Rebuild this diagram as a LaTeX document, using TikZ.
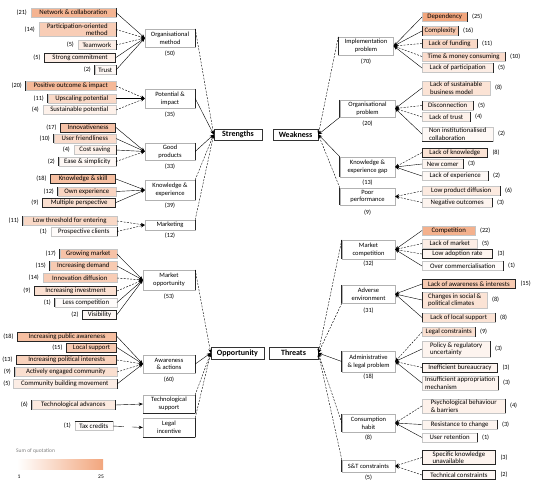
\documentclass[tikz,border=0pt]{standalone}
\usepackage{fontspec}
\setmainfont{Carlito}
\usetikzlibrary{arrows.meta}
\definecolor{qmax}{RGB}{242,166,125}
\tikzset{
  leaf/.style={draw=gray!45, line width=0.4pt, inner xsep=2pt, inner ysep=1pt,
    minimum height=9pt, font=\fontsize{6.8}{7.6}\selectfont},
  cnt/.style={inner sep=0.5pt, font=\fontsize{6.3}{7}\selectfont},
  catbox/.style={draw=gray!60, line width=0.4pt, align=center, inner sep=1pt,
    font=\fontsize{6.5}{7.6}\selectfont},
  mainbox/.style={draw=black!80, line width=0.6pt, inner sep=1pt,
    font=\fontsize{8}{9}\selectfont\bfseries},
  dk/.style={draw=black!85, line width=0.8pt},
  DL/.style={append after command={(\tikzlastnode.north west) edge[dk] (\tikzlastnode.south west)}},
  DR/.style={append after command={(\tikzlastnode.north east) edge[dk] (\tikzlastnode.south east)}},
  DT/.style={append after command={(\tikzlastnode.north west) edge[dk] (\tikzlastnode.north east)}},
  DB/.style={append after command={(\tikzlastnode.south west) edge[dk] (\tikzlastnode.south east)}},
  DF/.style={draw=black!85, line width=0.8pt},
  arr/.style={-{Stealth[length=4pt,width=3.2pt]}, line width=0.4pt},
  sl/.style={},
  ds/.style={dash pattern=on 2pt off 1.3pt},
}
% leaf on the left: name, right x, y, width, text, count, extra style
\newcommand\LL[7]{%
  \pgfmathtruncatemacro\qpct{#6*4}%
  \node[leaf, anchor=east, minimum width=#4, fill=qmax!\qpct!white, #7] (#1) at (#2,#3) {#5};
  \node[cnt, anchor=east] (#1c) at ([xshift=-3pt]#1.west) {(#6)};}
% leaf on the right: name, left x, y, width, text, count, extra style
\newcommand\RL[7]{%
  \pgfmathtruncatemacro\qpct{#6*4}%
  \node[leaf, anchor=west, minimum width=#4, fill=qmax!\qpct!white, #7] (#1) at (#2,#3) {#5};
  \node[cnt, anchor=west] (#1c) at ([xshift=4pt]#1.east) {(#6)};}
% category box: name, x, y, width, height, text, extra style
\newcommand\CB[7]{%
  \node[catbox, minimum width=#4, minimum height=#5, #7] (#1) at (#2,#3) {#6};}
\newcommand\CC[4]{\node[cnt] (#1) at (#2,#3) {#4};}

\begin{document}
\begin{tikzpicture}[x=1pt,y=-1pt]
\useasboundingbox (0,0) rectangle (534,483);

% ---------- Strengths ----------
\LL{nc}{116}{12.5}{85}{Network \& collaboration}{21}{DR}
\LL{po}{116}{29.5}{77}{Participation-oriented\\method}{14}{align=right,DR}
\LL{tw}{116}{45}{38}{Teamwork}{5}{DR}
\LL{sc}{116}{57.5}{71}{Strong commitment}{5}{DF}
\LL{tr}{116}{70}{21}{Trust}{2}{DL,DR}

\LL{poi}{116}{86}{90}{Positive outcome \& impact}{20}{DL}
\LL{ups}{116}{98.5}{68}{Upscaling potential}{11}{DL}
\LL{sus}{116}{110}{73}{Sustainable potential}{4}{}

\LL{inn}{116}{127.5}{55}{Innovativeness}{17}{DF}
\LL{uf}{116}{138.5}{62}{User friendliness}{10}{DL}
\LL{cs}{116}{150}{42}{Cost saving}{4}{DR}
\LL{es}{116}{161.5}{57}{Ease \& simplicity}{2}{DL,DR}

\LL{ks}{116}{179}{65}{Knowledge \& skill}{18}{DF}
\LL{oe}{116}{191.5}{58}{Own experience}{12}{DL}
\LL{mp}{116}{202.5}{73}{Multiple perspective}{9}{DF}

\LL{lt}{117}{221}{94}{Low threshold for entering}{11}{DL}
\LL{pc}{117}{231.5}{66}{Prospective clients}{1}{DR}

\CB{om}{170}{38}{50}{18}{Organisational\\method}{DR}
\CB{pi}{170}{98.5}{50}{19}{Potential \&\\impact}{DR}
\CB{gp}{170}{151.5}{50}{17}{Good\\products}{DR}
\CB{ke}{170}{190}{50}{20}{Knowledge \&\\experience}{DR}
\CB{mk}{170}{225}{50}{10}{Marketing}{DR}
\CC{omc}{170}{54}{(50)}
\CC{pic}{170}{115}{(35)}
\CC{gpc}{170}{167}{(33)}
\CC{kec}{170}{206}{(39)}
\CC{mkc}{170}{236}{(12)}

\node[mainbox, minimum width=48, minimum height=11] (S) at (238,134.5) {Strengths};

% ---------- Opportunity ----------
\LL{gm}{117}{254}{57}{Growing market}{17}{DL}
\LL{idm}{117}{266}{67}{Increasing demand}{15}{DL}
\LL{ind}{117}{278}{74}{Innovation diffusion}{14}{}
\LL{ii}{117}{291}{82}{Increasing investment}{9}{DF}
\LL{lc}{117}{302.5}{62}{Less competition}{1}{DL}
\LL{vis}{117}{314.5}{34}{Visibility}{2}{DF}

\LL{ipa}{117}{336.5}{99}{Increasing public awareness}{18}{DF}
\LL{lsu}{117}{347.5}{50}{Local support}{15}{DF}
\LL{ipi}{117}{360}{100}{Increasing political interests}{13}{DF}
\LL{aec}{117}{372}{102}{Actively engaged community}{9}{DL}
\pgfmathtruncatemacro\qpct{5*4}%
\node[leaf, anchor=east, minimum width=104, fill=qmax!\qpct!white, DR] (cbm) at (117,384) {Community building movement};
\node[cnt, anchor=east] (cbmc) at ([xshift=-1.5pt]cbm.west) {(5)};

\LL{ta}{115}{405}{83}{Technological advances}{6}{DL,DR}
\LL{tc}{113}{426}{38}{Tax credits}{1}{DT}

\CB{mo}{169}{280}{52}{20}{Market\\opportunity}{DR}
\CB{aa}{169}{364}{52}{18}{Awareness\\\& actions}{DR}
\CB{tsu}{169}{404}{52}{18}{Technological\\support}{DR,DB}
\CB{lin}{169}{427.5}{52}{19}{Legal\\incentive}{DR,DB}
\CC{moc}{169}{297}{(53)}
\CC{aac}{169}{380}{(60)}

\node[mainbox, minimum width=53, minimum height=12] (O) at (237.5,353) {Opportunity};

% ---------- Weakness ----------
\RL{dep}{422}{17}{45}{Dependency}{25}{DR}
\RL{cx}{422}{31}{36}{Complexity}{16}{DL,DR}
\RL{lf}{422}{43.5}{55}{Lack of funding}{11}{DL,DR}
\RL{tm}{422}{56.5}{83}{Time \& money consuming}{10}{DR}
\RL{lp}{422}{68}{71}{Lack of participation}{5}{DR}

\RL{lsb}{422}{88}{68}{Lack of sustainable\\business model}{8}{align=left}
\RL{dis}{422}{105.5}{51}{Disconnection}{5}{DL,DR}
\RL{lot}{422}{117}{48}{Lack of trust}{4}{DR}
\RL{nic}{422}{134}{71}{Non institutionalised\\collaboration}{2}{align=left,DB}

\RL{lk}{422}{152.5}{65}{Lack of knowledge}{8}{DF}
\RL{ncm}{422}{164}{41}{New comer}{3}{DR}
\RL{le}{422}{176}{66}{Lack of experience}{2}{DR}

\RL{lpd}{422}{191}{78}{Low product diffusion}{6}{DR}
\RL{neg}{422}{202.5}{70}{Negative outcomes}{3}{DR}

\CB{ip}{366}{46}{55}{18}{Implementation\\problem}{DL}
\CB{op}{367.5}{108.5}{55}{17}{Organisational\\problem}{DL}
\CB{kg}{367.5}{167}{55}{20}{Knowledge \&\\experience gap}{DL}
\CB{pp}{367.5}{196.5}{55}{17}{Poor\\performance}{DL}
\CC{ipc}{366}{62}{(70)}
\CC{opc}{367.5}{124}{(20)}
\CC{kgc}{367.5}{182.5}{(13)}
\CC{ppc}{367.5}{213}{(9)}

\node[mainbox, minimum width=45, minimum height=11] (W) at (295.5,134.5) {Weakness};

% ---------- Threats ----------
\RL{comp}{422}{230.5}{53}{Competition}{22}{}
\RL{lm}{422}{243.5}{55}{Lack of market}{5}{}
\RL{lar}{422}{254}{70}{Low adoption rate}{3}{DF}
\RL{oc}{422}{266}{81}{Over commercialisation}{1}{DR}

\RL{law}{422}{284}{93}{Lack of awareness \& interests}{15}{DF}
\RL{csp}{422}{300}{65}{Changes in social \&\\political climates}{8}{align=left,DL}
\RL{lls}{422}{317.5}{73}{Lack of local support}{8}{DL,DR}

\RL{lco}{422}{332}{53}{Legal constraints}{9}{DR}
\RL{pru}{422}{349}{68}{Policy \& regulatory\\uncertainty}{3}{align=left,DR}
\RL{ib}{422}{367.5}{75}{Inefficient bureaucracy}{3}{DF}
\RL{iam}{422}{383}{76}{Insufficient appropriation\\mechanism}{3}{align=left,DR}

\RL{pbb}{422}{406}{83}{Psychological behaviour\\\& barriers}{4}{align=left,DR}
\RL{rc}{422}{424.5}{75}{Resistance to change}{3}{DR}
\RL{ur}{422}{437.5}{55}{User retention}{1}{DR}

\RL{skn}{422}{457.5}{73}{Specific knowledge\\unavailable}{3}{align=left,DF}
\RL{tcn}{422}{475}{73}{Technical constraints}{2}{DF}

\CB{mc}{368.5}{249.5}{53}{19}{Market\\competition}{DL}
\CB{ae}{368.5}{294}{53}{18}{Adverse\\environment}{DL}
\CB{al}{368.5}{361.5}{53}{21}{Administrative\\\& legal problem}{DL}
\CB{ch}{368.5}{423}{53}{18}{Consumption\\habit}{DL}
\CB{st}{368.5}{466}{53}{12}{S\&T constraints}{DL}
\CC{mcc}{368.5}{264}{(32)}
\CC{aec2}{368.5}{311}{(31)}
\CC{alc}{368.5}{377}{(18)}
\CC{chc}{368.5}{438}{(8)}
\CC{stc}{368.5}{478}{(5)}

\node[mainbox, minimum width=49, minimum height=12] (T) at (293.5,353) {Threats};

% ---------- connectors: leaves to categories ----------
\foreach \a/\s in {nc/sl,po/ds,tw/ds,sc/sl,tr/sl} \draw[arr,\s] (\a.east) -- (om.west);
\foreach \a/\s in {poi/ds,ups/sl,sus/ds} \draw[arr,\s] (\a.east) -- (pi.west);
\foreach \a/\s in {inn/sl,uf/sl,cs/sl,es/ds} \draw[arr,\s] (\a.east) -- (gp.west);
\foreach \a/\s in {ks/sl,oe/sl,mp/sl} \draw[arr,\s] (\a.east) -- (ke.west);
\foreach \a/\s in {lt/ds,pc/ds} \draw[arr,\s] (\a.east) -- (mk.west);
\foreach \a/\s in {gm/sl,idm/sl,ind/ds,ii/ds,lc/sl,vis/sl} \draw[arr,\s] (\a.east) -- (mo.west);
\foreach \a/\s in {ipa/sl,lsu/sl,ipi/ds,aec/ds,cbm/sl} \draw[arr,\s] (\a.east) -- (aa.west);
\draw[arr] (ta.east) -- (tsu.west);
\draw[arr, dash pattern=on 11pt off 8pt] (tc.east) -- (lin.west);

\foreach \a/\s in {dep/sl,cx/sl,lf/ds,tm/ds,lp/sl} \draw[arr,\s] (\a.west) -- (ip.east);
\foreach \a/\s in {lsb/sl,dis/ds,lot/ds,nic/sl} \draw[arr,\s] (\a.west) -- (op.east);
\foreach \a/\s in {lk/ds,ncm/sl,le/sl} \draw[arr,\s] (\a.west) -- (kg.east);
\foreach \a/\s in {lpd/ds,neg/ds} \draw[arr,\s] (\a.west) -- (pp.east);
\foreach \a/\s in {comp/sl,lm/ds,lar/ds,oc/sl} \draw[arr,\s] (\a.west) -- (mc.east);
\foreach \a/\s in {law/sl,csp/sl,lls/sl} \draw[arr,\s] (\a.west) -- (ae.east);
\foreach \a/\s in {lco/ds,pru/sl,ib/ds,iam/sl} \draw[arr,\s] (\a.west) -- (al.east);
\foreach \a/\s in {pbb/ds,rc/sl,ur/sl} \draw[arr,\s] (\a.west) -- (ch.east);
\foreach \a/\s in {skn/ds,tcn/ds} \draw[arr,\s] (\a.west) -- (st.east);

% ---------- connectors: categories to the four headings ----------
\foreach \a/\s in {om.north east/ds,pi.east/sl,gp.east/sl,ke.north east/ds,mk.north east/ds}
  \draw[arr,\s] (\a) -- (S.west);
\foreach \a/\s in {mo.north east/ds,aa.east/sl,tsu.north east/ds,lin.north east/ds}
  \draw[arr,\s] (\a) -- (O.west);
\foreach \a/\s in {ip.north west/ds,op.south west/sl,kg.north west/sl,pp.north west/ds}
  \draw[arr,\s] (\a) -- (W.east);
\foreach \a/\s in {mc.north west/ds,ae.south west/ds,al.west/sl,ch.west/ds,st.north west/ds}
  \draw[arr,\s] (\a) -- (T.east);

% ---------- colour scale ----------
\node[anchor=west, inner sep=0pt, text=gray, font=\fontsize{5.5}{6}\selectfont] (lgt) at (16,451) {Sum of quotation};
\shade[left color=white, right color=qmax] (17,459) rectangle (103,469);
\node[inner sep=0pt, font=\fontsize{5.5}{6}\selectfont] (lmin) at (19,477) {1};
\node[inner sep=0pt, font=\fontsize{5.5}{6}\selectfont] (lmax) at (101,477) {25};
\end{tikzpicture}
\end{document}
